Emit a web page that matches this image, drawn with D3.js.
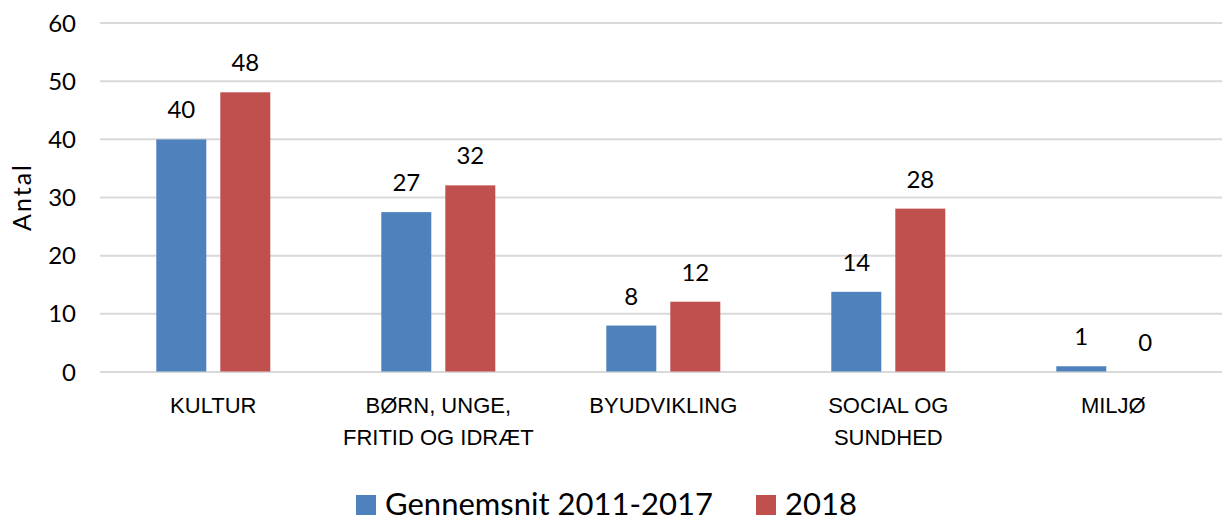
<!DOCTYPE html>
<html>
<head>
<meta charset="utf-8">
<script src="https://cdn.jsdelivr.net/npm/d3@7"></script>
<style>
  body { margin: 0; background: #fff; }
  svg { display: block; font-family: Lato, "Open Sans", sans-serif; }
  .grid line { stroke: #d9d9d9; stroke-width: 2; }
  .axis text { fill: #000; }
</style>
</head>
<body>
<svg width="1222" height="521"></svg>
<script>
// data
var categories = ["KULTUR", "BØRN, UNGE, FRITID OG IDRÆT", "BYUDVIKLING", "SOCIAL OG SUNDHED", "MILJØ"];
var categoryLines = [["KULTUR"], ["BØRN, UNGE,", "FRITID OG IDRÆT"], ["BYUDVIKLING"], ["SOCIAL OG", "SUNDHED"], ["MILJØ"]];
var seriesNames = ["Gennemsnit 2011-2017", "2018"];
var avgValues = [39.9, 27.4, 7.9, 13.7, 0.9];
var avgLabels = [40, 27, 8, 14, 1];
var values2018 = [48, 32, 12, 28, 0];
var valueLabels2018 = [48, 32, 12, 28, 0];
var yTicks = [0, 10, 20, 30, 40, 50, 60];
var colors = ["#4f81bd", "#c0504d"];

var svg = d3.select("svg");

var x0 = d3.scaleBand().domain(categories).range([100.8, 1225.8]);
var x1 = d3.scaleBand().domain(seriesNames).range([55.5, 169.5]).paddingInner(0.21875);
var y = d3.scaleLinear().domain([0, 60]).range([371.5, 22.5]);

// gridlines
svg.append("g")
    .attr("class", "grid")
    .attr("transform", "translate(100,0)")
    .call(d3.axisLeft(y).tickValues(yTicks).tickSize(-1130).tickFormat(""))
    .call(function(g) { g.select(".domain").remove(); });

// y tick labels
svg.append("g")
    .attr("class", "axis")
    .attr("transform", "translate(76,0)")
    .call(d3.axisLeft(y).tickValues(yTicks).tickSize(0).tickPadding(0))
    .call(function(g) {
        g.select(".domain").remove();
        g.selectAll("text").attr("font-size", 24).attr("font-family", "Lato, sans-serif").attr("dy", "0.36em");
    });

// y title
svg.append("text")
    .attr("transform", "translate(31,197) rotate(-90)")
    .attr("text-anchor", "middle")
    .attr("font-size", 25)
    .attr("letter-spacing", 2)
    .attr("fill", "#000")
    .text("Antal");

var rows = categories.map(function(c, i) {
    return {cat: c, vals: [
        {s: seriesNames[0], v: avgValues[i], lab: avgLabels[i]},
        {s: seriesNames[1], v: values2018[i], lab: valueLabels2018[i]}
    ]};
});

var groups = svg.selectAll(".cat")
    .data(rows)
    .enter().append("g")
    .attr("class", "cat")
    .attr("transform", function(d) { return "translate(" + x0(d.cat) + ",0)"; });

groups.selectAll("rect")
    .data(function(d) { return d.vals; })
    .enter().append("rect")
    .attr("x", function(d) { return x1(d.s); })
    .attr("y", function(d) { return y(d.v); })
    .attr("width", x1.bandwidth())
    .attr("height", function(d) { return y(0) - y(d.v); })
    .attr("fill", function(d, i) { return colors[i]; });

groups.selectAll(".lbl")
    .data(function(d) { return d.vals; })
    .enter().append("text")
    .attr("class", "lbl")
    .attr("x", function(d) { return x1(d.s) + x1.bandwidth() / 2; })
    .attr("y", function(d) { return y(d.v) - 21; })
    .attr("text-anchor", "middle")
    .attr("font-size", 24)
    .attr("fill", "#000")
    .text(function(d) { return d.lab; });

// category labels
var xAxis = svg.append("g")
    .attr("class", "axis")
    .attr("transform", "translate(0,371.5)")
    .call(d3.axisBottom(x0).tickSize(0).tickFormat(""))
    .call(function(g) { g.select(".domain").remove(); });

xAxis.selectAll(".tick text").remove();
xAxis.selectAll(".tick").each(function(d, i) {
    var t = d3.select(this).append("text")
        .attr("text-anchor", "middle")
        .attr("font-size", 22)
        .attr("fill", "#000");
    categoryLines[i].forEach(function(line, j) {
        t.append("tspan").attr("x", 0).attr("y", 41.5 + j * 32).text(line);
    });
});

// legend
var legend = svg.append("g").attr("font-size", 31).attr("fill", "#000");
var legendX = [356, 756];
seriesNames.forEach(function(s, i) {
    legend.append("rect")
        .attr("x", legendX[i]).attr("y", 495)
        .attr("width", 20).attr("height", 20)
        .attr("fill", colors[i]);
    legend.append("text")
        .attr("x", legendX[i] + 29).attr("y", 515)
        .text(s);
});
</script>
</body>
</html>
